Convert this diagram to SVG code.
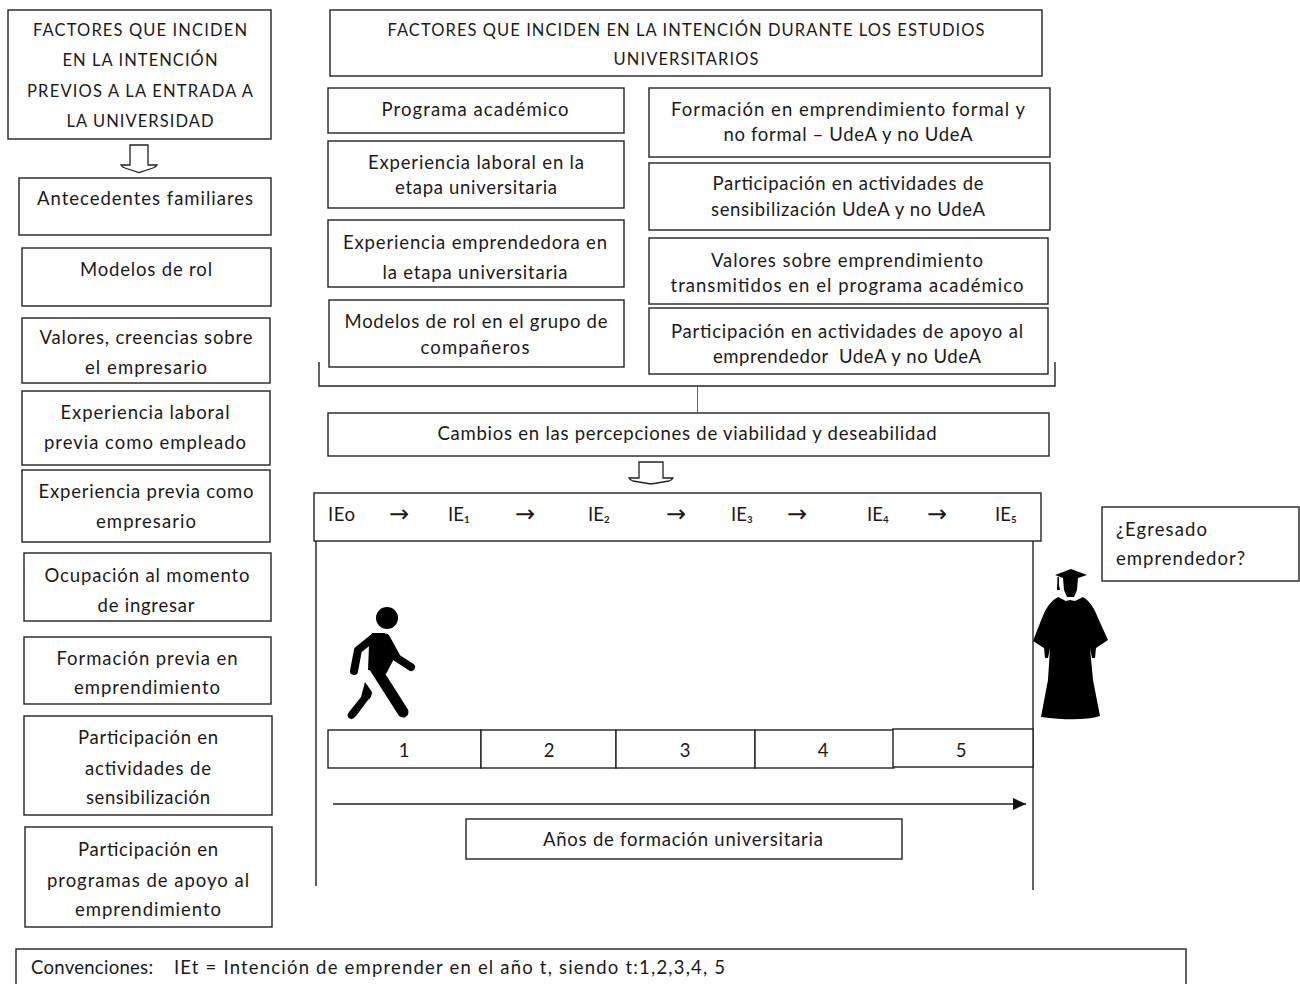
<svg xmlns="http://www.w3.org/2000/svg" width="1300" height="984" viewBox="0 0 1300 984">
<style>
.b{fill:#fff;stroke:#222;stroke-width:1.4}
.l{fill:none;stroke:#222;stroke-width:1.4}
.t{fill:none;stroke:#666;stroke-width:1}
.d{fill:#fff;stroke:#222;stroke-width:1.3}
.a{fill:none;stroke:#000;stroke-linecap:round;stroke-linejoin:round}
text{font-family:Lato,"Open Sans","Liberation Sans",sans-serif;font-size:18.5px;fill:#1a1a1a;text-anchor:middle}
.c{font-size:16.5px}
.s{text-anchor:start}
.ar{font-family:"DejaVu Sans",sans-serif;font-size:24px}
</style>
<defs>
<marker id="ah" markerWidth="14" markerHeight="12" refX="13" refY="6" orient="auto" markerUnits="userSpaceOnUse"><path d="M0 0L13 6L0 12Z" fill="#111"/></marker>
</defs>
<rect width="1300" height="984" fill="#fff"/>
<g id="left-title"><rect class="b" x="8" y="10" width="263" height="129"/><text class="c" x="140" y="36" textLength="214">FACTORES QUE INCIDEN</text><text class="c" x="140" y="66" textLength="155">EN LA INTENCIÓN</text><text class="c" x="140" y="97" textLength="226">PREVIOS A LA ENTRADA A</text><text class="c" x="140" y="127" textLength="147">LA UNIVERSIDAD</text></g>
<g id="l1"><rect class="b" x="19" y="178" width="252" height="57"/><text x="145" y="205" textLength="216">Antecedentes  familiares</text></g>
<g id="l2"><rect class="b" x="22" y="248" width="249" height="58"/><text x="146" y="276" textLength="132">Modelos de rol</text></g>
<g id="l3"><rect class="b" x="22" y="318" width="248" height="65"/><text x="146" y="344" textLength="213">Valores, creencias sobre</text><text x="146" y="374" textLength="122">el empresario</text></g>
<g id="l4"><rect class="b" x="22" y="391" width="248" height="74"/><text x="145" y="419" textLength="169">Experiencia laboral</text><text x="145" y="449" textLength="202">previa como empleado</text></g>
<g id="l5"><rect class="b" x="22" y="470" width="248" height="72"/><text x="146" y="498" textLength="215">Experiencia previa como</text><text x="146" y="528" textLength="100">empresario</text></g>
<g id="l6"><rect class="b" x="24" y="553" width="247" height="68"/><text x="147" y="582" textLength="205">Ocupación al momento</text><text x="146" y="612" textLength="97">de ingresar</text></g>
<g id="l7"><rect class="b" x="24" y="637" width="247" height="67"/><text x="147" y="665" textLength="181">Formación previa en</text><text x="147" y="694" textLength="146">emprendimiento</text></g>
<g id="l8"><rect class="b" x="24" y="716" width="248" height="99"/><text x="148" y="744" textLength="140">Participación en</text><text x="148" y="775" textLength="126">actividades de</text><text x="148" y="804" textLength="124">sensibilización</text></g>
<g id="l9"><rect class="b" x="25" y="827" width="247" height="100"/><text x="148" y="856" textLength="140">Participación en</text><text x="148" y="887" textLength="202">programas de apoyo al</text><text x="148" y="916" textLength="146">emprendimiento</text></g>
<g id="center-title"><rect class="b" x="330" y="10" width="712" height="66"/><text class="c" x="686" y="36" textLength="597">FACTORES QUE INCIDEN EN LA INTENCIÓN DURANTE LOS ESTUDIOS</text><text class="c" x="686" y="65" textLength="145">UNIVERSITARIOS</text></g>
<g id="c1"><rect class="b" x="328" y="88" width="296" height="45"/><text x="475" y="116" textLength="187">Programa académico</text></g>
<g id="c2"><rect class="b" x="328" y="141" width="296" height="67"/><text x="476" y="169" textLength="216">Experiencia laboral en la</text><text x="476" y="194" textLength="162">etapa universitaria</text></g>
<g id="c3"><rect class="b" x="328" y="220" width="296" height="67"/><text x="475" y="249" textLength="264">Experiencia emprendedora en</text><text x="475" y="279" textLength="185">la etapa universitaria</text></g>
<g id="c4"><rect class="b" x="329" y="300" width="295" height="67"/><text x="476" y="328" textLength="263">Modelos de rol en el grupo de</text><text x="475" y="354" textLength="109">compañeros</text></g>
<g id="r1"><rect class="b" x="649" y="88" width="401" height="69"/><text x="848" y="116" textLength="354">Formación en emprendimiento formal y</text><text x="848" y="141" textLength="249">no formal – UdeA y no UdeA</text></g>
<g id="r2"><rect class="b" x="649" y="163" width="401" height="67"/><text x="848" y="190" textLength="271">Participación en actividades de</text><text x="848" y="216" textLength="274">sensibilización UdeA y no UdeA</text></g>
<g id="r3"><rect class="b" x="649" y="238" width="399" height="66"/><text x="847" y="267" textLength="272">Valores sobre emprendimiento</text><text x="847" y="292" textLength="353">transmitidos en el programa académico</text></g>
<g id="r4"><rect class="b" x="649" y="308" width="399" height="66"/><text x="847" y="338" textLength="352">Participación en actividades de apoyo al</text><text x="847" y="363" textLength="268">emprendedor&#160; UdeA y no UdeA</text></g>
<g id="connectors">
<path class="l" d="M319 362V386H1055V362M316 541V886M1033 541V890"/>
<path class="t" d="M697.500 386V413"/>
<path class="l" d="M333 804H1026" marker-end="url(#ah)"/>
<path class="d" d="M130 145H148V165H157Q156 167 153 168L139 172.500L125 168Q122 167 121 165H130Z"/>
<path class="d" d="M639 462H663V478H673Q672 480 669 481L651 484L633 481Q630 480 629 478H639Z"/>
</g>
<g id="change"><rect class="b" x="328" y="413" width="721" height="43"/><text x="687" y="440" textLength="499">Cambios en las percepciones de viabilidad y deseabilidad</text></g>
<g id="ie"><rect class="b" x="314" y="493" width="727" height="48"/>
<text class="s" x="328" y="521" textLength="27">IEo</text><text class="ar" x="399" y="522">→</text><text class="s" x="448" y="521">IE₁</text><text class="ar" x="525" y="522">→</text><text class="s" x="588" y="521">IE₂</text><text class="ar" x="676" y="522">→</text><text class="s" x="731" y="521">IE₃</text><text class="ar" x="797" y="522">→</text><text class="s" x="867" y="521">IE₄</text><text class="ar" x="937" y="522">→</text><text class="s" x="995" y="521">IE₅</text></g>
<g id="egresado"><rect class="b" x="1102" y="507" width="197" height="74"/><text class="s" x="1116" y="536" textLength="91">¿Egresado</text><text class="s" x="1116" y="565" textLength="129">emprendedor?</text></g>
<g id="walker"><circle cx="387" cy="618" r="11"/>
<path class="a" stroke-width="8" d="M373 638L358 650L354 671"/>
<path class="a" stroke-width="8" d="M386 638L397 658L411 667"/>
<path d="M372 633H385L396 655L386 674L368 670L369 645Z"/>
<path class="a" stroke-width="11" d="M375 668L403 712"/>
<path d="M365 682L372 692Q372 697 368 700L356 716Q352 721 349 718Q346 716 349 712L361 697Z"/></g>
<g id="graduate">
<path d="M1055 575L1071 569L1087 575L1078 578H1063ZM1057.500 577H1059V585L1060 590H1057Z"/>
<path d="M1063 578H1078L1077 590L1074 597H1067L1064 590Z"/>
<path d="M1058 597L1066 601L1070 600L1075 601L1083 597Q1092 602 1098 618L1108 640L1096 648L1095 658L1092 658L1090 648L1093 680L1100 716Q1080 722 1041 717L1048 680L1050 648L1048 658L1045 658L1044 648L1033 641L1042 618Q1048 602 1058 597Z"/></g>
<g id="years">
<rect class="b" x="328" y="730" width="153" height="38"/><rect class="b" x="481" y="730" width="135" height="38"/><rect class="b" x="616" y="730" width="139" height="38"/><rect class="b" x="755" y="730" width="139" height="38"/><rect class="b" x="893" y="729" width="140" height="38"/>
<text x="404" y="757">1</text><text x="549" y="757">2</text><text x="685" y="757">3</text><text x="823" y="757">4</text><text x="961" y="757">5</text></g>
<g id="anos"><rect class="b" x="466" y="819" width="436" height="40"/><text x="683" y="846" textLength="280">Años de formación universitaria</text></g>
<g id="conv"><rect class="b" x="16" y="949" width="1170" height="40"/><text class="s" x="31" y="974" textLength="122">Convenciones:</text><text class="s" x="174" y="974" textLength="551">IEt = Intención de emprender en el año t, siendo t:1,2,3,4, 5</text></g>
</svg>
